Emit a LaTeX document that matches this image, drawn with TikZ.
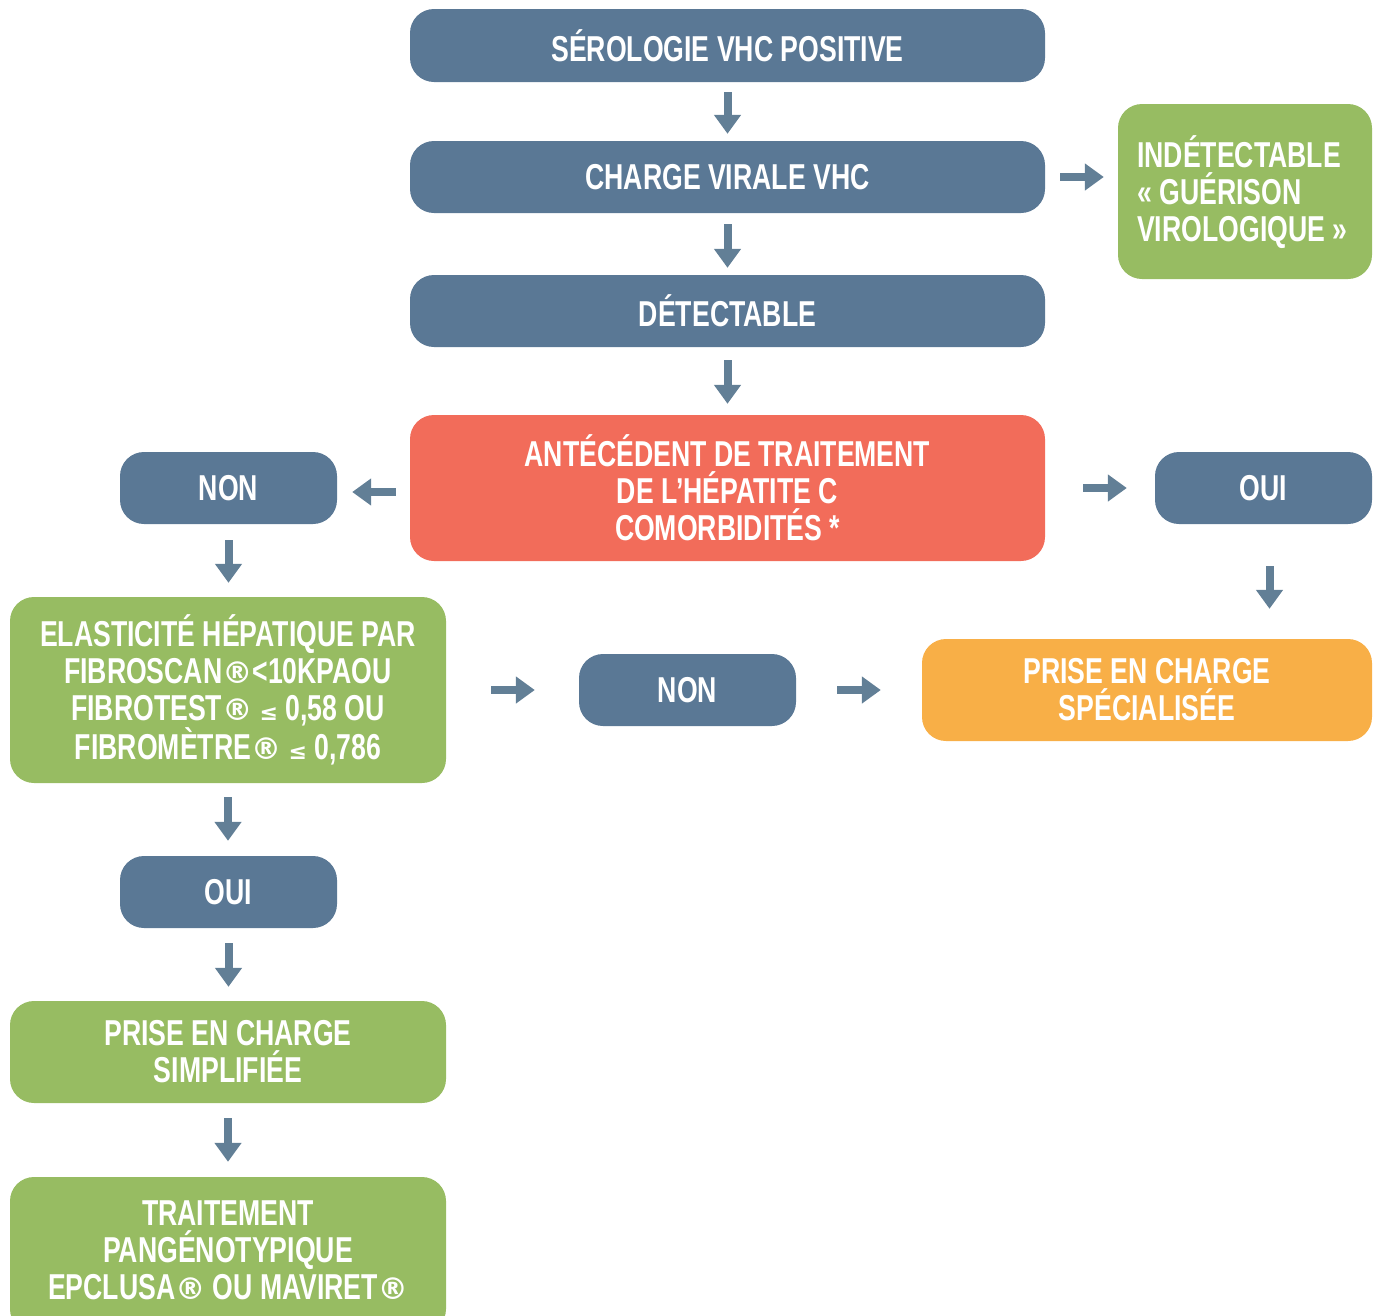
\documentclass[tikz,border=0pt]{standalone}
\usepackage{fontspec}
\setmainfont{Liberation Sans}[FakeStretch=0.74]
\newfontfamily\symf{DejaVu Sans}
\usetikzlibrary{arrows.meta}
\definecolor{bluebox}{HTML}{5A7895}
\definecolor{arrowc}{HTML}{627F96}
\definecolor{greenbox}{HTML}{97BC62}
\definecolor{redbox}{HTML}{F26C5A}
\definecolor{orangebox}{HTML}{F8AF47}
\newcommand{\leqs}{{\symf\fontsize{22}{22}\selectfont ≤}}
\newcommand{\regm}{{\symf\bfseries\fontsize{30}{37}\selectfont ®}}
\begin{document}
\begin{tikzpicture}[x=1pt,y=-1pt,
  box/.style={rounded corners=24pt, inner sep=0pt, text=white,
    font=\fontsize{36}{37}\selectfont\bfseries, align=center},
  bbox/.style={box, fill=bluebox},
  gbox/.style={box, fill=greenbox},
  rbox/.style={box, fill=redbox},
  obox/.style={box, fill=orangebox},
  arr/.style={draw=arrowc, line width=8pt, -{Triangle[width=26pt,length=19pt]}}
]
\useasboundingbox (0,0) rectangle (1378,1315);

\node[bbox, minimum width=635pt, minimum height=73pt] (s1) at (727.5,45.5) {SÉROLOGIE VHC POSITIVE};
\node[bbox, minimum width=635pt, minimum height=72pt] (s2) at (727.5,177) {CHARGE VIRALE VHC};
\node[gbox, minimum width=254pt, minimum height=175pt] (ind) at (1245,191.5) {};
\node[anchor=west, text=white, font=\fontsize{36}{37}\selectfont\bfseries, align=left, inner sep=0pt] (indt) at (1137,192) {INDÉTECTABLE\\« GUÉRISON\\VIROLOGIQUE »};
\node[bbox, minimum width=635pt, minimum height=72pt] (s4) at (727.5,311) {DÉTECTABLE};
\node[rbox, minimum width=635pt, minimum height=146pt] (s5) at (727.5,488) {ANTÉCÉDENT DE TRAITEMENT\\DE L’HÉPATITE C\\COMORBIDITÉS *};
\node[bbox, minimum width=217pt, minimum height=72pt] (nonL) at (228.5,488) {NON};
\node[bbox, minimum width=217pt, minimum height=72pt] (ouiR) at (1263.5,488) {OUI};
\node[gbox, minimum width=436pt, minimum height=186pt] (el) at (228,690) {ELASTICITÉ HÉPATIQUE PAR\\FIBROSCAN\regm{}<10KPAOU\\FIBROTEST\regm{} \leqs{} 0,58 OU\\FIBROMÈTRE\regm{} \leqs{} 0,786};
\node[bbox, minimum width=217pt, minimum height=72pt] (nonM) at (687.5,690) {NON};
\node[obox, minimum width=450pt, minimum height=102pt] (spec) at (1147,690) {PRISE EN CHARGE\\SPÉCIALISÉE};
\node[bbox, minimum width=217pt, minimum height=72pt] (ouiL) at (228.5,892) {OUI};
\node[gbox, minimum width=436pt, minimum height=102pt] (simp) at (228,1052) {PRISE EN CHARGE\\SIMPLIFIÉE};
\node[gbox, minimum width=436pt, minimum height=156pt] (trt) at (228,1255) {};
\node[text=white, font=\fontsize{36}{37}\selectfont\bfseries, align=center, inner sep=0pt] (trtt) at (228,1250) {TRAITEMENT\\PANGÉNOTYPIQUE\\EPCLUSA\regm{} OU MAVIRET\regm};

\draw[arr, shorten <=10pt, shorten >=7pt] (s1.south) -- (s2.north);
\draw[arr, shorten <=11pt, shorten >=7pt] (s2.south) -- (s4.north);
\draw[arr, shorten <=13pt, shorten >=11pt] (s4.south) -- (s5.north);
\draw[arr, shorten <=15pt, shorten >=14pt] (s2.east) -- (s2.east -| ind.west);
\draw[arr, shorten <=14pt, shorten >=15pt] ([yshift=-4pt]s5.west) -- ([yshift=-4pt]nonL.east);
\draw[arr, shorten <=38pt, shorten >=28pt] (s5.east) -- (ouiR.west);
\draw[arr, shorten <=16pt, shorten >=14pt] (nonL.south) -- (nonL.south |- el.north);
\draw[arr, shorten <=42pt, shorten >=30pt] ([xshift=6pt]ouiR.south) -- ([xshift=6pt]ouiR.south |- spec.north);
\draw[arr, shorten <=45pt, shorten >=44pt] (el.east) -- (nonM.west);
\draw[arr, shorten <=41pt, shorten >=41pt] (nonM.east) -- (spec.west);
\draw[arr, shorten <=14pt, shorten >=15pt] (el.south) -- (el.south |- ouiL.north);
\draw[arr, shorten <=15pt, shorten >=14pt] (ouiL.south) -- (ouiL.south |- simp.north);
\draw[arr, shorten <=15pt, shorten >=15pt] (simp.south) -- (trt.north);
\end{tikzpicture}
\end{document}
